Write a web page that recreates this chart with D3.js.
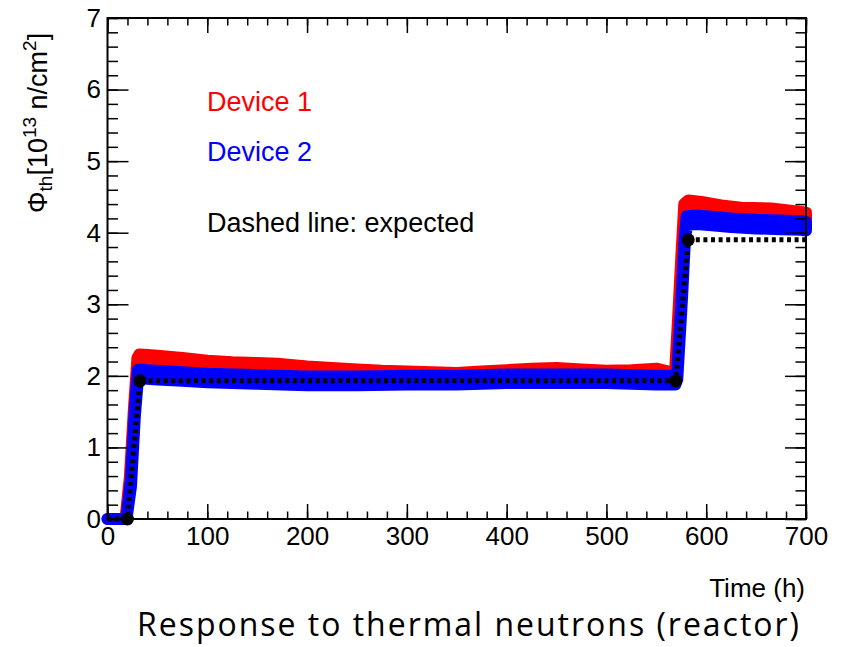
<!DOCTYPE html>
<html><head><meta charset="utf-8">
<script src="https://cdn.jsdelivr.net/npm/d3@7"></script>
<style>body{margin:0;background:#fff}svg{display:block}</style>
</head><body>
<svg id="c" width="843" height="647"></svg>
<script>
// ---- data ----
const xTicks = [0,100,200,300,400,500,600,700];
const yTicks = [0,1,2,3,4,5,6,7];

const dev1T = [0,18,22.5,26.5,30,32,40,50,75,100,125,150,170,200,225,250,275,300,325,350,375,400,425,450,475,500,525,550,565,569,572,575,578,582,595,615,635,665,695,700];
const dev1V = [0,0,0.55,1.5,2.2,2.24,2.23,2.22,2.19,2.15,2.13,2.12,2.11,2.07,2.05,2.03,2.01,2.00,1.99,1.98,2.00,2.02,2.04,2.05,2.03,2.01,2.02,2.04,1.99,2.05,2.8,3.6,4.35,4.39,4.37,4.32,4.29,4.28,4.23,4.22];
const dev1S = [0,0,0.05,0.05,0.05,0.06,0.06,0.06,0.06,0.06,0.06,0.06,0.06,0.06,0.06,0.06,0.06,0.06,0.06,0.06,0.06,0.06,0.06,0.06,0.06,0.06,0.06,0.06,0.06,0.05,0.05,0.05,0.05,0.06,0.06,0.06,0.06,0.06,0.06,0.06];

const dev2T = [0,19,23.5,27.5,30.5,33,40,50,75,100,150,200,250,300,350,400,450,500,550,569,571,573.5,576,578.5,580.5,590,600,625,650,675,695,700];
const dev2V = [0,0,0.5,1.5,2.02,2.03,2.02,2.01,1.99,1.97,1.95,1.93,1.93,1.94,1.94,1.96,1.96,1.96,1.94,1.94,2.0,2.6,3.2,3.9,4.17,4.18,4.17,4.14,4.12,4.11,4.10,4.09];
const dev2S = [0,0,0.05,0.05,0.06,0.06,0.06,0.06,0.06,0.06,0.06,0.06,0.06,0.06,0.06,0.06,0.06,0.06,0.06,0.06,0.05,0.05,0.05,0.05,0.06,0.06,0.06,0.06,0.06,0.06,0.06,0.06];

const expT = [0,20,32.5,569.5,582,700];
const expV = [0,0,1.93,1.93,3.90,3.90];
const expDots = [1,2,3,4];

const labels = {dev1:"Device 1", dev2:"Device 2", note:"Dashed line: expected", xTitle:"Time (h)", caption:"Response to thermal neutrons (reactor)"};

// ---- drawing ----
const svg = d3.select("#c");
const FONT = "'Liberation Sans', Arial, Helvetica, sans-serif";
const x = d3.scaleLinear().domain([0,700]).range([107.5,806]);
const y = d3.scaleLinear().domain([0,7]).range([519,18]);

function band(T,V,S,color){
  const pts = T.map((t,i)=>({t, v:V[i], s:S[i]}));
  const area = d3.area().x(d=>x(d.t)).y0(d=>y(d.v-d.s)).y1(d=>y(d.v+d.s));
  svg.append("path").attr("d",area(pts)).attr("fill",color).attr("stroke",color)
    .attr("stroke-width",12).attr("stroke-linejoin","round").attr("stroke-linecap","round");
}
band(dev1T,dev1V,dev1S,"#ff0000");
band(dev2T,dev2V,dev2S,"#0000ff");

const expPts = expT.map((t,i)=>[t,expV[i]]);
svg.append("path").attr("d", d3.line().x(d=>x(d[0])).y(d=>y(d[1]))(expPts))
  .attr("fill","none").attr("stroke","#000").attr("stroke-width",5).attr("stroke-dasharray","4,3.6");
svg.selectAll("circle.e").data(expDots.map(i=>expPts[i])).join("circle").attr("class","e")
  .attr("cx",d=>x(d[0])).attr("cy",d=>y(d[1])).attr("r",6.5).attr("fill","#000");

// axes
const minorX = d3.range(0,701,20), minorY = d3.range(0,7.01,0.2);
function ax(gen, tickVals, size, labelsOn, pad){
  const a = gen.tickValues(tickVals).tickSize(size).tickSizeOuter(0);
  a.tickFormat(labelsOn ? d3.format("d") : "");
  if(pad!==undefined) a.tickPadding(pad);
  return a;
}
const fr = {l:107.5, r:806, t:18, b:519};
function addAxis(a, tx, ty){
  const g = svg.append("g").attr("transform",`translate(${tx},${ty})`).call(a);
  g.select(".domain").remove();
  g.selectAll("line").attr("stroke","#000").attr("stroke-width",1.5);
  g.selectAll("text").attr("font-family",FONT).attr("font-size",26).attr("fill","#000");
  return g;
}
addAxis(ax(d3.axisBottom(x), xTicks, -15, true, 8), 0, fr.b);
addAxis(ax(d3.axisBottom(x), minorX, -7.5, false), 0, fr.b);
addAxis(ax(d3.axisTop(x), xTicks, -15, false), 0, fr.t);
addAxis(ax(d3.axisTop(x), minorX, -7.5, false), 0, fr.t);
addAxis(ax(d3.axisLeft(y), yTicks, -21, true, 6.5), fr.l, 0);
addAxis(ax(d3.axisLeft(y), minorY, -10.5, false), fr.l, 0);
addAxis(ax(d3.axisRight(y), yTicks, -21, false), fr.r, 0);
addAxis(ax(d3.axisRight(y), minorY, -10.5, false), fr.r, 0);
svg.append("rect").attr("x",fr.l).attr("y",fr.t).attr("width",fr.r-fr.l).attr("height",fr.b-fr.t)
  .attr("fill","none").attr("stroke","#000").attr("stroke-width",2);

// legend texts
svg.append("text").attr("x",207).attr("y",111).attr("fill","#ff0000").attr("font-family",FONT).attr("font-size",27).text(labels.dev1);
svg.append("text").attr("x",207).attr("y",161).attr("fill","#0000ff").attr("font-family",FONT).attr("font-size",27).text(labels.dev2);
svg.append("text").attr("x",207).attr("y",232).attr("fill","#000").attr("font-family",FONT).attr("font-size",27).text(labels.note);

// x title
svg.append("text").attr("x",805).attr("y",597).attr("text-anchor","end").attr("font-family",FONT).attr("font-size",26).text(labels.xTitle);

// y title
const yt = svg.append("text").attr("transform","translate(47,213) rotate(-90)").attr("font-family",FONT).attr("font-size",27);
yt.append("tspan").text("Φ");
yt.append("tspan").attr("font-size",19).attr("dy",5).text("th");
yt.append("tspan").attr("dy",-5).text("[10");
yt.append("tspan").attr("font-size",19).attr("dy",-11).text("13");
yt.append("tspan").attr("dy",11).text(" n/cm");
yt.append("tspan").attr("font-size",19).attr("dy",-11).text("2");
yt.append("tspan").attr("dy",11).text("]");

// caption: fixed font size, letter spacing nudged to fill the reference width
const cap = svg.append("text").attr("x",137).attr("y",636).attr("font-family","'Open Sans', 'Noto Sans', sans-serif").attr("font-size",32).attr("fill","#000").text(labels.caption);
const w = cap.node().getComputedTextLength();
const n = labels.caption.length;
cap.attr("letter-spacing", (664 - w)/n);
</script>
</body></html>
